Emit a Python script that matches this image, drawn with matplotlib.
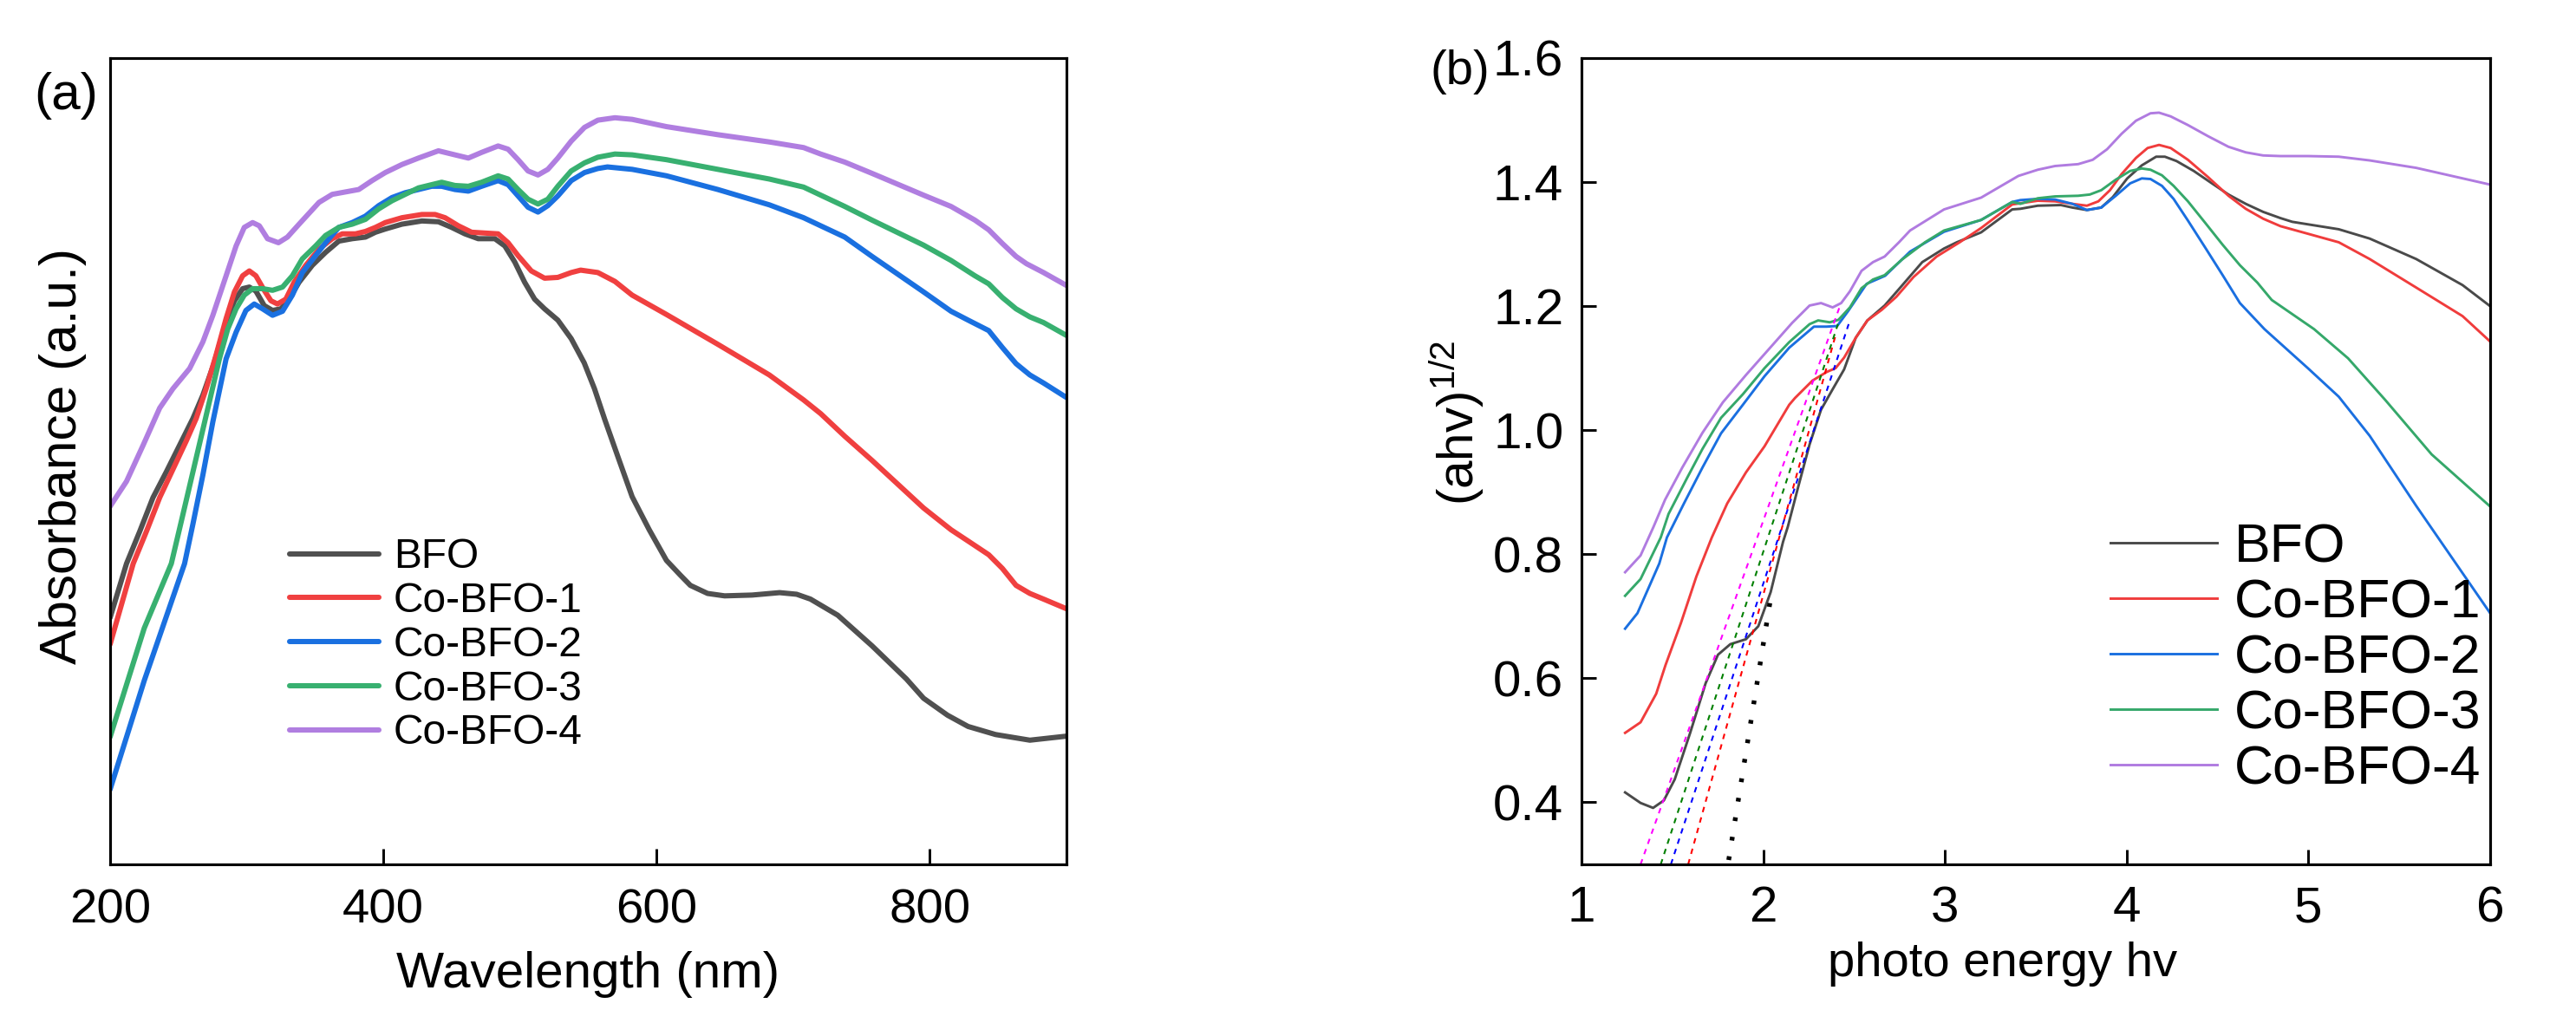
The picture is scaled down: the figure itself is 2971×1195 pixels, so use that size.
import matplotlib
matplotlib.use("Agg")
import matplotlib.pyplot as plt

plt.rcParams['font.family'] = ['Liberation Sans', 'DejaVu Sans']
plt.rcParams['mathtext.default'] = 'regular'

# ---------------- data: panel (a) ----------------
labels = ["BFO", "Co-BFO-1", "Co-BFO-2", "Co-BFO-3", "Co-BFO-4"]
colors_a = ["#505050", "#f04040", "#1a70e0", "#38b070", "#b07ee0"]

bfo_a_x = [200, 212.0, 221.7, 231.4, 241.2, 250.9, 260.6, 267.9, 276.4, 284.9, 291.0, 297.0, 301.9, 306.7, 312.8,
           318.9, 325.0, 331.0, 338.3, 348.0, 357.7, 367.4, 377.2, 386.9, 394.2, 401.4, 413.6, 428.2, 440.3, 450.0,
           459.7, 469.4, 481.6, 488.9, 496.2, 503.4, 510.7, 518.0, 527.7, 537.5, 547.0, 554.5, 562.0, 572.0, 582.1,
           594.6, 607.2, 617.2, 624.7, 637.3, 649.8, 669.9, 690.0, 702.5, 712.6, 722.6, 732.6, 757.7, 782.8, 795.4,
           812.9, 828.0, 848.1, 873.2, 900]
bfo_a_y = [0.306, 0.373, 0.413, 0.455, 0.487, 0.520, 0.553, 0.582, 0.623, 0.673, 0.699, 0.714, 0.716, 0.711, 0.693,
           0.687, 0.689, 0.701, 0.722, 0.743, 0.759, 0.773, 0.776, 0.778, 0.784, 0.788, 0.794, 0.798, 0.797, 0.790,
           0.782, 0.776, 0.776, 0.767, 0.747, 0.722, 0.701, 0.689, 0.675, 0.652, 0.622, 0.590, 0.552, 0.504, 0.456,
           0.415, 0.377, 0.359, 0.346, 0.336, 0.333, 0.334, 0.337, 0.335, 0.329, 0.319, 0.309, 0.271, 0.230, 0.206,
           0.185, 0.171, 0.161, 0.154, 0.159]

co1_a_x = [200, 216.9, 226.6, 236.3, 246.0, 255.7, 263.0, 270.3, 277.6, 284.9, 291.0, 297.0, 301.9, 306.7, 312.8,
           317.7, 322.5, 328.6, 334.7, 343.2, 352.9, 362.6, 369.9, 379.6, 386.9, 394.2, 401.4, 413.6, 428.2, 437.9,
           445.2, 454.9, 464.6, 474.3, 484.0, 491.3, 498.6, 508.3, 518.0, 527.7, 537.5, 544.4, 557.0, 569.5, 582.1,
           607.2, 644.8, 682.5, 707.6, 720.1, 737.7, 757.7, 795.4, 815.5, 828.0, 843.1, 853.1, 863.1, 873.2, 883.2, 900]
co1_a_y = [0.273, 0.373, 0.413, 0.455, 0.490, 0.525, 0.553, 0.590, 0.632, 0.677, 0.710, 0.730, 0.736, 0.730, 0.712,
           0.699, 0.695, 0.701, 0.722, 0.743, 0.763, 0.776, 0.782, 0.782, 0.785, 0.790, 0.796, 0.802, 0.806, 0.806,
           0.802, 0.792, 0.784, 0.783, 0.782, 0.771, 0.755, 0.736, 0.727, 0.728, 0.734, 0.737, 0.734, 0.723, 0.706,
           0.682, 0.645, 0.607, 0.576, 0.559, 0.531, 0.501, 0.442, 0.415, 0.401, 0.384, 0.367, 0.346, 0.336, 0.329, 0.317]

co2_a_x = [200, 225, 254.5, 260.6, 267.9, 275.2, 284.9, 292.2, 299.4, 305.5, 311.6, 318.9, 326.2, 333.4, 340.7,
           350.4, 357.7, 367.4, 377.2, 386.9, 396.6, 406.3, 416.0, 425.7, 435.4, 442.7, 452.4, 462.2, 471.9, 484.0,
           491.3, 498.6, 505.9, 513.2, 520.4, 527.7, 537.5, 547.2, 556.9, 564.0, 582.1, 607.2, 644.8, 682.5, 707.6,
           720.1, 737.7, 757.7, 795.4, 815.5, 828.0, 843.1, 853.1, 863.1, 873.2, 883.2, 900]
co2_a_y = [0.093, 0.228, 0.373, 0.422, 0.483, 0.549, 0.627, 0.660, 0.687, 0.695, 0.689, 0.681, 0.686, 0.706, 0.734,
           0.755, 0.771, 0.790, 0.796, 0.804, 0.817, 0.827, 0.833, 0.837, 0.841, 0.841, 0.837, 0.835, 0.841, 0.848,
           0.843, 0.829, 0.815, 0.809, 0.817, 0.829, 0.848, 0.858, 0.863, 0.865, 0.862, 0.854, 0.837, 0.818, 0.802,
           0.792, 0.778, 0.754, 0.710, 0.686, 0.675, 0.662, 0.641, 0.621, 0.607, 0.597, 0.579]

co3_a_x = [200, 225, 244.8, 253.3, 263.0, 272.7, 280.0, 286.1, 292.2, 298.2, 304.3, 311.6, 318.9, 326.2, 333.4,
           340.7, 350.4, 357.7, 367.4, 377.2, 386.9, 396.6, 406.3, 416.0, 425.7, 435.4, 442.7, 452.4, 462.2, 471.9,
           484.0, 491.3, 498.6, 505.9, 513.2, 520.4, 527.7, 537.5, 547.2, 556.9, 569.5, 582.1, 607.2, 644.8, 682.5,
           707.6, 720.1, 737.7, 757.7, 795.4, 815.5, 833.0, 843.1, 853.1, 863.1, 873.2, 883.2, 900]
co3_a_y = [0.158, 0.293, 0.373, 0.434, 0.504, 0.574, 0.627, 0.664, 0.689, 0.706, 0.714, 0.714, 0.712, 0.716, 0.730,
           0.751, 0.767, 0.780, 0.790, 0.794, 0.800, 0.813, 0.823, 0.831, 0.839, 0.843, 0.846, 0.842, 0.841, 0.846,
           0.854, 0.850, 0.837, 0.825, 0.819, 0.825, 0.841, 0.860, 0.870, 0.877, 0.881, 0.880, 0.874, 0.862, 0.850,
           0.840, 0.830, 0.816, 0.799, 0.768, 0.749, 0.730, 0.720, 0.703, 0.689, 0.679, 0.672, 0.656]

co4_a_x = [200, 212.0, 224.2, 236.3, 246.0, 258.2, 267.9, 275.2, 284.9, 292.2, 298.2, 304.3, 309.2, 315.2, 323.2,
           329.8, 338.3, 352.9, 362.6, 372.3, 382.0, 391.7, 401.4, 413.6, 425.7, 440.3, 452.4, 462.2, 471.9, 484.0,
           491.3, 498.6, 505.9, 513.2, 520.4, 527.7, 537.5, 547.2, 557.0, 569.5, 582.1, 607.2, 644.8, 682.5, 707.6,
           720.1, 737.7, 757.7, 795.4, 815.5, 833.0, 843.1, 853.1, 863.1, 870.7, 883.2, 900]
co4_a_y = [0.444, 0.475, 0.520, 0.566, 0.590, 0.615, 0.648, 0.681, 0.730, 0.767, 0.790, 0.796, 0.792, 0.776, 0.771,
           0.778, 0.794, 0.821, 0.831, 0.834, 0.837, 0.848, 0.858, 0.868, 0.876, 0.885, 0.880, 0.876, 0.883, 0.891,
           0.887, 0.874, 0.860, 0.855, 0.862, 0.876, 0.897, 0.914, 0.923, 0.926, 0.924, 0.915, 0.905, 0.896, 0.889,
           0.881, 0.871, 0.857, 0.830, 0.816, 0.799, 0.787, 0.770, 0.754, 0.745, 0.734, 0.718]

xticks_a = [200, 400, 600, 800]

# ---------------- data: panel (b) ----------------
colors_b = ["#4a4a4a", "#f03c3c", "#1a6fe0", "#35a86a", "#b07be0"]

bfo_b_x = [1.24, 1.325, 1.394, 1.453, 1.513, 1.598, 1.683, 1.751, 1.819, 1.905, 1.973, 2.041, 2.109, 2.135, 2.191,
           2.255, 2.318, 2.382, 2.445, 2.509, 2.573, 2.668, 2.763, 2.875, 2.995, 3.065, 3.199, 3.370, 3.415, 3.511,
           3.638, 3.701, 3.781, 3.860, 3.924, 4.003, 4.083, 4.162, 4.210, 4.274, 4.369, 4.464, 4.560, 4.655, 4.751,
           4.846, 4.911, 5.167, 5.337, 5.593, 5.848, 6.0]
bfo_b_y = [0.416, 0.399, 0.391, 0.403, 0.437, 0.512, 0.592, 0.638, 0.655, 0.663, 0.684, 0.739, 0.820, 0.844, 0.907,
           0.977, 1.033, 1.066, 1.098, 1.149, 1.177, 1.201, 1.233, 1.271, 1.293, 1.303, 1.319, 1.356, 1.357, 1.362,
           1.363, 1.359, 1.355, 1.359, 1.376, 1.406, 1.427, 1.441, 1.441, 1.434, 1.418, 1.399, 1.380, 1.365, 1.352,
           1.342, 1.336, 1.324, 1.309, 1.276, 1.234, 1.200]

co1_b_x = [1.24, 1.325, 1.411, 1.462, 1.547, 1.632, 1.717, 1.802, 1.905, 2.007, 2.143, 2.175, 2.271, 2.350, 2.398,
           2.445, 2.509, 2.573, 2.652, 2.732, 2.827, 2.954, 3.081, 3.199, 3.370, 3.415, 3.511, 3.606, 3.701, 3.781,
           3.844, 3.908, 3.972, 4.051, 4.115, 4.178, 4.242, 4.337, 4.448, 4.560, 4.655, 4.751, 4.846, 5.167, 5.337,
           5.593, 5.848, 6.0]
co1_b_y = [0.512, 0.529, 0.575, 0.621, 0.689, 0.764, 0.827, 0.882, 0.932, 0.974, 1.041, 1.052, 1.080, 1.094, 1.100,
           1.117, 1.149, 1.177, 1.194, 1.215, 1.247, 1.280, 1.303, 1.326, 1.364, 1.366, 1.370, 1.369, 1.365, 1.362,
           1.369, 1.387, 1.413, 1.439, 1.455, 1.460, 1.455, 1.436, 1.408, 1.378, 1.357, 1.341, 1.329, 1.303, 1.276,
           1.230, 1.184, 1.143]

co2_b_x = [1.24, 1.308, 1.428, 1.470, 1.564, 1.666, 1.768, 1.888, 2.007, 2.143, 2.279, 2.348, 2.407, 2.467, 2.569,
           2.671, 2.808, 2.995, 3.199, 3.370, 3.415, 3.511, 3.606, 3.701, 3.781, 3.860, 3.940, 4.019, 4.083, 4.131,
           4.194, 4.258, 4.337, 4.433, 4.528, 4.623, 4.758, 4.997, 5.167, 5.337, 5.593, 6.0]
co2_b_y = [0.680, 0.705, 0.785, 0.827, 0.882, 0.940, 0.995, 1.041, 1.087, 1.133, 1.167, 1.167, 1.168, 1.192, 1.236,
           1.249, 1.288, 1.320, 1.339, 1.368, 1.371, 1.373, 1.372, 1.365, 1.355, 1.359, 1.378, 1.398, 1.406, 1.405,
           1.394, 1.373, 1.338, 1.294, 1.250, 1.205, 1.163, 1.100, 1.054, 0.991, 0.878, 0.705]

co3_b_x = [1.24, 1.325, 1.436, 1.479, 1.581, 1.666, 1.768, 1.888, 2.007, 2.143, 2.255, 2.302, 2.366, 2.414, 2.477,
           2.541, 2.604, 2.668, 2.763, 2.890, 2.995, 3.199, 3.370, 3.415, 3.511, 3.606, 3.733, 3.797, 3.860, 3.940,
           4.019, 4.083, 4.131, 4.194, 4.258, 4.337, 4.433, 4.528, 4.623, 4.719, 4.798, 5.031, 5.218, 5.422, 5.678, 6.0]
co3_b_y = [0.733, 0.760, 0.827, 0.865, 0.923, 0.970, 1.020, 1.058, 1.100, 1.142, 1.171, 1.177, 1.174, 1.178, 1.198,
           1.229, 1.243, 1.250, 1.275, 1.303, 1.322, 1.339, 1.368, 1.365, 1.374, 1.377, 1.378, 1.380, 1.387, 1.404,
           1.418, 1.422, 1.420, 1.411, 1.394, 1.369, 1.334, 1.299, 1.266, 1.238, 1.210, 1.163, 1.116, 1.049, 0.961, 0.877]

co4_b_x = [1.24, 1.325, 1.396, 1.460, 1.555, 1.666, 1.778, 1.905, 2.032, 2.159, 2.255, 2.318, 2.382, 2.429, 2.477,
           2.541, 2.604, 2.668, 2.747, 2.808, 2.995, 3.199, 3.404, 3.511, 3.606, 3.733, 3.813, 3.892, 3.972, 4.051,
           4.131, 4.178, 4.242, 4.337, 4.448, 4.560, 4.655, 4.751, 4.846, 4.997, 5.167, 5.337, 5.593, 6.0]
co4_b_y = [0.771, 0.798, 0.844, 0.888, 0.940, 0.996, 1.045, 1.089, 1.131, 1.173, 1.201, 1.205, 1.198, 1.205, 1.224,
           1.257, 1.271, 1.280, 1.303, 1.322, 1.356, 1.375, 1.410, 1.420, 1.426, 1.429, 1.436, 1.453, 1.478, 1.499,
           1.511, 1.512, 1.506, 1.492, 1.474, 1.457, 1.448, 1.443, 1.442, 1.442, 1.441, 1.435, 1.423, 1.396]

# tangent (band-gap) lines: BFO, Co-BFO-1, Co-BFO-2, Co-BFO-3, Co-BFO-4
tan_x0 = [1.810, 1.587, 1.492, 1.436, 1.325]
tan_y0 = [0.307, 0.300, 0.300, 0.300, 0.300]
tan_x1 = [2.039, 2.398, 2.470, 2.411, 2.423]
tan_y1 = [0.726, 1.153, 1.171, 1.171, 1.201]
tan_colors = ["black", "#ff0000", "#0000ff", "#008000", "#ff00ff"]

xticks_b = [1, 2, 3, 4, 5, 6]
yticks_b = [0.4, 0.6, 0.8, 1.0, 1.2, 1.4, 1.6]

# ---------------- figure ----------------
W, H = 2971, 1195
fig = plt.figure(figsize=(W / 300, H / 300), dpi=300)

def fx(px):
    return px / W

def fy(py):
    return 1 - py / H

ax1 = fig.add_axes([fx(127), fy(997), (1230 - 127) / W, (997 - 67) / H])
ax2 = fig.add_axes([fx(1824), fy(997), (2872 - 1824) / W, (997 - 67) / H])

# panel (a)
series_a = [(bfo_a_x, bfo_a_y), (co1_a_x, co1_a_y), (co2_a_x, co2_a_y), (co3_a_x, co3_a_y), (co4_a_x, co4_a_y)]
for (xs, ys), c, lab in zip(series_a, colors_a, labels):
    ax1.plot(xs, ys, color=c, lw=1.45, label=lab, solid_capstyle='round', solid_joinstyle='round')
ax1.set_xlim(200, 900)
ax1.set_ylim(0, 1)
ax1.set_xticks(xticks_a)
ax1.set_yticks([])
ax1.tick_params(axis='x', direction='in', length=4.4, width=0.7, labelsize=13.5, pad=6.5)
for s in ax1.spines.values():
    s.set_linewidth(0.75)
ax1.set_xlabel("Wavelength (nm)", fontsize=14)
ax1.xaxis.set_label_coords(0.5, -0.1075)
ax1.set_ylabel("Absorbance (a.u.)", fontsize=14.5)
ax1.yaxis.set_label_coords(-0.0245, 0.506)
ax1.legend(loc='upper left', bbox_to_anchor=(0.1877, 0.405), frameon=False, fontsize=11.5,
           handlelength=2.15, handletextpad=0.35, labelspacing=0.12, borderpad=0, borderaxespad=0)
fig.text(fx(113), fy(111), "(a)", fontsize=14.5, ha='right', va='center')

# panel (b)
series_b = [(bfo_b_x, bfo_b_y), (co1_b_x, co1_b_y), (co2_b_x, co2_b_y), (co3_b_x, co3_b_y), (co4_b_x, co4_b_y)]
for (xs, ys), c, lab in zip(series_b, colors_b, labels):
    ax2.plot(xs, ys, color=c, lw=0.7, label=lab, solid_joinstyle='round')
for i in range(len(tan_x0)):
    if i == 0:
        ax2.plot([tan_x0[i], tan_x1[i]], [tan_y0[i], tan_y1[i]], color=tan_colors[i], lw=1.3,
                 linestyle=(0, (0.8, 3.4)))
    else:
        ax2.plot([tan_x0[i], tan_x1[i]], [tan_y0[i], tan_y1[i]], color=tan_colors[i], lw=0.5,
                 linestyle=(0, (3, 3)))
ax2.set_xlim(1, 6)
ax2.set_ylim(0.3, 1.6)
ax2.set_xticks(xticks_b)
ax2.set_yticks(yticks_b)
ax2.set_yticklabels([f"{v:.1f}" for v in yticks_b])
ax2.tick_params(direction='in', length=4.0, width=0.7, labelsize=14)
ax2.tick_params(axis='x', pad=5.8)
ax2.tick_params(axis='y', pad=5)
for s in ax2.spines.values():
    s.set_linewidth(0.75)
ax2.set_xlabel("photo energy hv", fontsize=13.5)
ax2.xaxis.set_label_coords(0.4637, -0.0957)
ax2.set_ylabel("(ahv)$^{1/2}$", fontsize=14)
ax2.yaxis.set_label_coords(-0.105, 0.547)
ax2.legend(loc='upper left', bbox_to_anchor=(0.5817, 0.4247), frameon=False, fontsize=15,
           handlelength=1.97, handletextpad=0.32, labelspacing=0.08, borderpad=0, borderaxespad=0)
fig.text(fx(1718), fy(83), "(b)", fontsize=13.5, ha='right', va='center')

fig.savefig("out.png", dpi=300)
